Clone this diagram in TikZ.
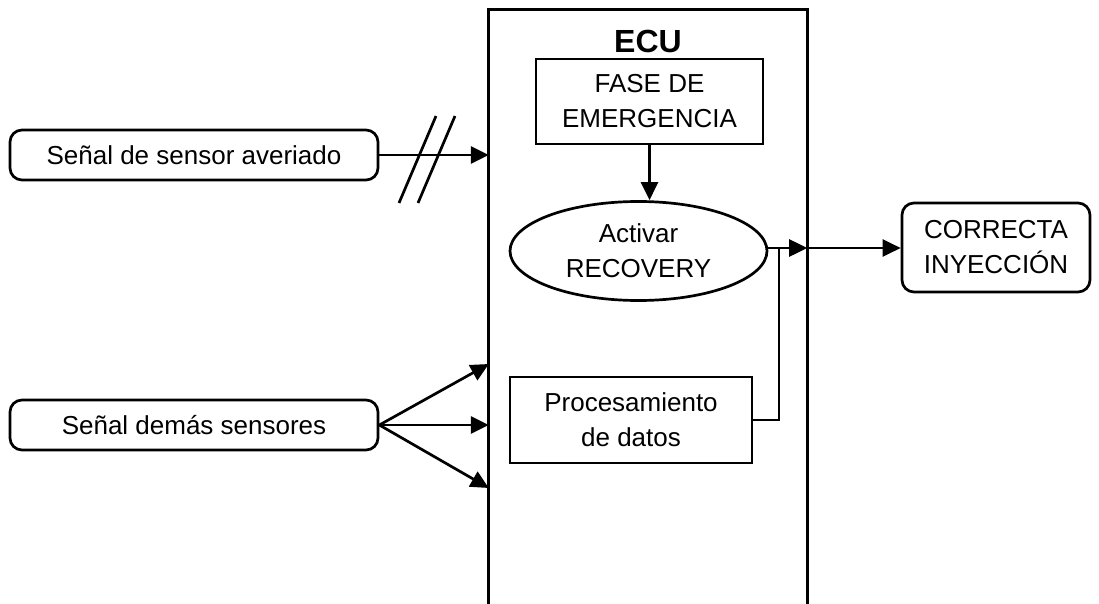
\documentclass[tikz,border=0pt]{standalone}
\usepackage{fontspec}
\setmainfont{Liberation Sans}
\usetikzlibrary{arrows.meta,shapes.geometric}
\begin{document}
\begin{tikzpicture}[x=1pt,y=-1pt,
  every node/.style={font=\fontsize{26}{35}\selectfont, align=center},
  ln/.style={line width=2.7pt},
  arr/.style={ln,-{Triangle[length=18pt,width=17pt]}},
  rbox/.style={draw,ln,rounded corners=12pt,inner sep=0pt},
  sbox/.style={draw,ln,inner sep=0pt}]
\useasboundingbox (0,0) rectangle (1099,604);
% ECU frame (open at bottom)
\node[minimum width=318pt,minimum height=594pt,inner sep=0pt] (ecu) at (648,307) {};
\draw[ln] (ecu.south west) -- (ecu.north west) -- (ecu.north east) -- (ecu.south east);
\node[font=\fontsize{32}{36}\selectfont\bfseries] (ecut) at (648,41) {ECU};
% inner boxes
\node[sbox,minimum width=227pt,minimum height=85pt] (fase) at (649.5,101.5) {FASE DE\\EMERGENCIA};
\node[draw,ln,ellipse,minimum width=257pt,minimum height=99pt,inner sep=0pt] (rec) at (638.5,251) {Activar\\RECOVERY};
\node[sbox,minimum width=242pt,minimum height=86pt] (proc) at (631,420) {Procesamiento\\de datos};
% outer boxes
\node[rbox,minimum width=368pt,minimum height=50pt] (av) at (194,155) {Se\~nal de sensor averiado};
\node[rbox,minimum width=368pt,minimum height=50pt] (dem) at (194,425) {Se\~nal dem\'as sensores};
\node[rbox,minimum width=188pt,minimum height=89pt] (cor) at (996,247.5) {CORRECTA\\INYECCI\'ON};
% connectors
\draw[arr] (av.east) -- (av.east -| ecu.west);
\draw[ln] (399,203) -- (436,116);
\draw[ln] (418,203) -- (455,116);
\draw[arr] (fase.south) -- (rec.north -| fase.south);
\coordinate (j) at (ecu.east |- 0,248);
\draw[arr] (rec.east |- j) -- (j);
\draw[arr] (j) -- (cor.west |- j);
\draw[ln] (proc.east) -| (779,248);
\draw[arr] (dem.east) -- (dem.east -| ecu.west);
\draw[arr] (dem.east) -- (ecu.west |- 0,364);
\draw[arr] (dem.east) -- (ecu.west |- 0,488);
\end{tikzpicture}
\end{document}
